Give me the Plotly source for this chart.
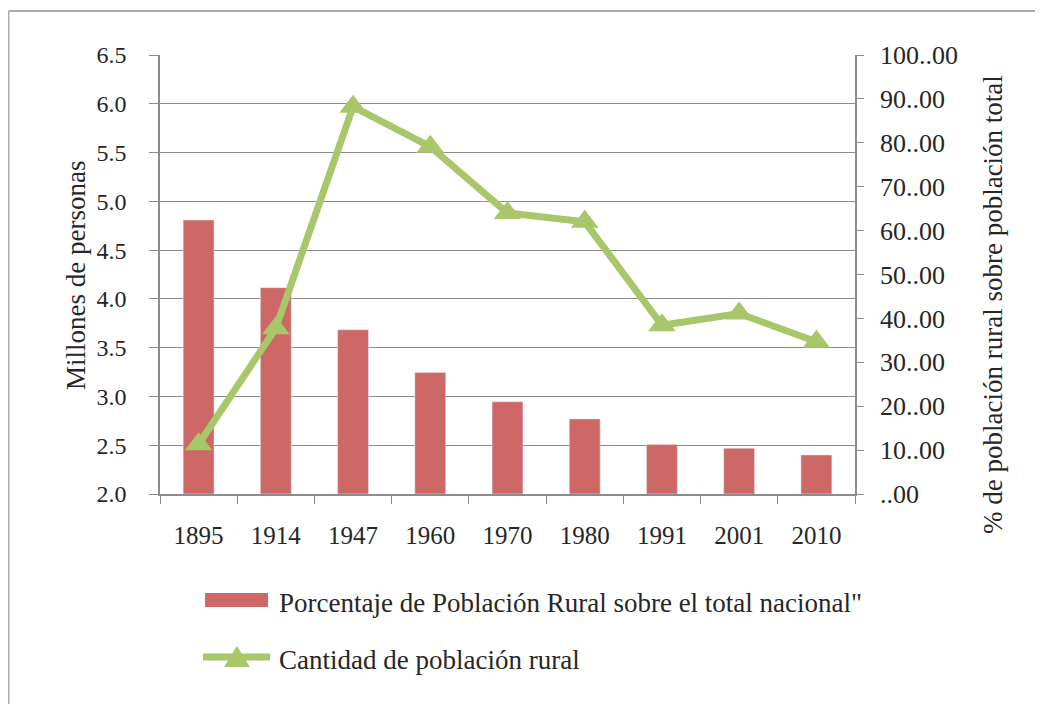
import plotly.graph_objects as go

years = ["1895", "1914", "1947", "1960", "1970", "1980", "1991", "2001", "2010"]
pct_rural = [62.4, 47.0, 37.4, 27.7, 21.0, 17.1, 11.3, 10.4, 8.9]
rural_millions = [2.51, 3.70, 5.97, 5.56, 4.88, 4.79, 3.73, 3.85, 3.56]
pct_ticks = [0, 10, 20, 30, 40, 50, 60, 70, 80, 90, 100]
pct_ticktext = ["..00", "10..00", "20..00", "30..00", "40..00", "50..00",
                "60..00", "70..00", "80..00", "90..00", "100..00"]
name_bar = "Porcentaje de Población Rural sobre el total nacional\""
name_line = "Cantidad de población rural"
left_title = "Millones de personas"
right_title = "% de población rural sobre población total"

BAR = "#CD6866"
LINE = "#A8C66A"
GRID = "#8C8C8C"
TXT = "#262626"
FONT = "Liberation Serif, Times New Roman, serif"

OFF = 8  # page body margin
W, H = 1043, 704
L = 160 - OFF
T = 55 - OFF
R = W - (855 - OFF)
B = H - (494 - OFF)
pw, ph = W - L - R, H - T - B


def px(x):
    return (x - OFF - L) / pw


def py(y):
    return (H - B - (y - OFF)) / ph


fig = go.Figure()
fig.add_trace(go.Bar(x=years, y=pct_rural, name=name_bar, marker_color=BAR,
                     width=0.4, yaxis="y", showlegend=False))
fig.add_trace(go.Scatter(x=years, y=rural_millions, name=name_line, mode="lines+markers",
                         line=dict(color=LINE, width=7),
                         marker=dict(symbol="triangle-up", size=24, color=LINE),
                         yaxis="y2", showlegend=False))

fig.update_layout(
    width=W, height=H,
    margin=dict(l=L, r=R, t=T, b=B, pad=0),
    paper_bgcolor="white", plot_bgcolor="white",
    font=dict(family=FONT, size=24, color=TXT),
    xaxis=dict(type="category", range=[-0.5, 8.5], tickson="boundaries", ticks="outside",
               ticklen=8, tickcolor=GRID, showline=True, linecolor=GRID, linewidth=1.5,
               showgrid=False, ticklabelstandoff=18, tickfont=dict(size=25)),
    yaxis=dict(side="right", range=[0, 100], tickvals=pct_ticks, ticktext=pct_ticktext,
               ticks="outside", ticklen=7, tickcolor=GRID, showline=True, linecolor=GRID,
               linewidth=1.5, showgrid=False, zeroline=False, ticklabelstandoff=11,
               tickfont=dict(size=26)),
    yaxis2=dict(side="left", overlaying="y", range=[2, 6.5], dtick=0.5, tick0=2,
                tickformat=".1f", ticks="outside", ticklen=9, tickcolor=GRID,
                showline=True, linecolor=GRID, linewidth=1.5, showgrid=True,
                gridcolor=GRID, gridwidth=1.3, zeroline=False, ticklabelstandoff=18,
                tickfont=dict(size=24)),
    showlegend=False,
)

# axis titles
fig.add_annotation(text=left_title, xref="paper", yref="paper", x=px(76), y=py(276),
                   xanchor="center", yanchor="middle",
                   textangle=-90, showarrow=False, font=dict(size=27))
fig.add_annotation(text=right_title, xref="paper", yref="paper", x=px(993), y=py(305),
                   xanchor="center", yanchor="middle",
                   textangle=-90, showarrow=False, font=dict(size=27))

# legend (manual)
fig.add_shape(type="rect", xref="paper", yref="paper", x0=px(205), x1=px(268),
              y0=py(607), y1=py(593), fillcolor=BAR, line_width=0)
fig.add_annotation(text=name_bar, xref="paper", yref="paper", x=px(277), y=py(603),
                   xanchor="left", yanchor="middle", showarrow=False, font=dict(size=27))
fig.add_shape(type="line", xref="paper", yref="paper", x0=px(203), x1=px(270),
              y0=py(657), y1=py(657), line=dict(color=LINE, width=7))
fig.add_shape(type="path", xref="paper", yref="paper",
              path=f"M {px(224)},{py(667)} L {px(250)},{py(667)} L {px(237)},{py(646)} Z",
              fillcolor=LINE, line_width=0)
fig.add_annotation(text=name_line, xref="paper", yref="paper", x=px(277), y=py(660),
                   xanchor="left", yanchor="middle", showarrow=False, font=dict(size=27))

# outer frame (left and top edges)
fig.add_shape(type="line", xref="paper", yref="paper", x0=px(8.5), x1=px(8.5),
              y0=py(720), y1=py(11), line=dict(color="#ABABAB", width=2))
fig.add_shape(type="line", xref="paper", yref="paper", x0=px(8.5), x1=px(1060),
              y0=py(11), y1=py(11), line=dict(color="#ABABAB", width=2))

fig.write_html("out.html")
